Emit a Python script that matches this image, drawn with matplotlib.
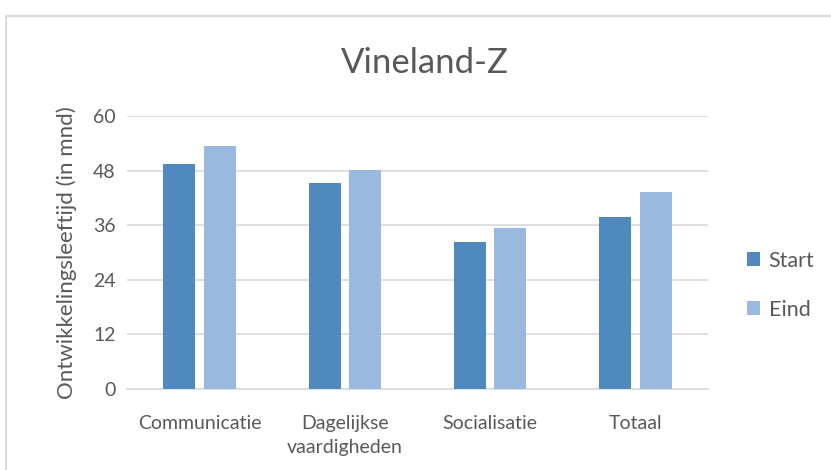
import numpy as np
import matplotlib.pyplot as plt
from matplotlib.patches import Rectangle

categories = ["Communicatie", "Dagelijkse\nvaardigheden", "Socialisatie", "Totaal"]
start = [49.5, 45.2, 32.3, 37.8]
eind = [53.3, 48.2, 35.3, 43.3]
yticks = [0, 12, 24, 36, 48, 60]

plt.rcParams['font.family'] = ['Lato', 'DejaVu Sans']
txt = '#595959'

fig = plt.figure(figsize=(8.31, 4.70), dpi=100)
# outer chart frame
fig.patches.append(Rectangle((6 / 831, -0.1), 1.0, 1.1 - 16 / 470, transform=fig.transFigure,
                             fill=False, edgecolor='#D9D9D9', linewidth=1.5))

ax = fig.add_axes([127 / 831, (470 - 389) / 470, (708 - 127) / 831, (389 - 116) / 470])

x = np.arange(len(categories))
w = 0.22
ax.bar(x - w / 2 - 0.03, start, w, color='#4F89BD', label='Start', zorder=3)
ax.bar(x + w / 2 + 0.03, eind, w, color='#99B9DE', label='Eind', zorder=3)

ax.set_xlim(-0.5, len(categories) - 0.5)
ax.set_ylim(0, 60)
ax.set_yticks(yticks)
ax.yaxis.grid(True, color='#D9D9D9', linewidth=1.2)
ax.set_axisbelow(True)
for s in ['top', 'right', 'left']:
    ax.spines[s].set_visible(False)
ax.spines['bottom'].set_color('#D9D9D9')
ax.spines['bottom'].set_linewidth(1.2)
ax.tick_params(length=0, labelsize=14, colors=txt)
ax.set_xticks(x)
ax.set_xticklabels(categories, linespacing=1.45)
ax.tick_params(axis='x', pad=19)
ax.tick_params(axis='y', pad=8)

ax.set_ylabel("Ontwikkelingsleeftijd (in mnd)", fontsize=16, color=txt, labelpad=12)
fig.text(425 / 831, 1 - 63 / 470, "Vineland-Z", fontsize=25, color=txt, ha='center', va='center')

ax.legend(loc='center left', bbox_to_anchor=(1.034, 0.38), frameon=False, fontsize=15.5,
          labelcolor=txt, handlelength=0.6, handleheight=0.6, labelspacing=1.35, handletextpad=0.4)

fig.savefig('out.png', dpi=100)
